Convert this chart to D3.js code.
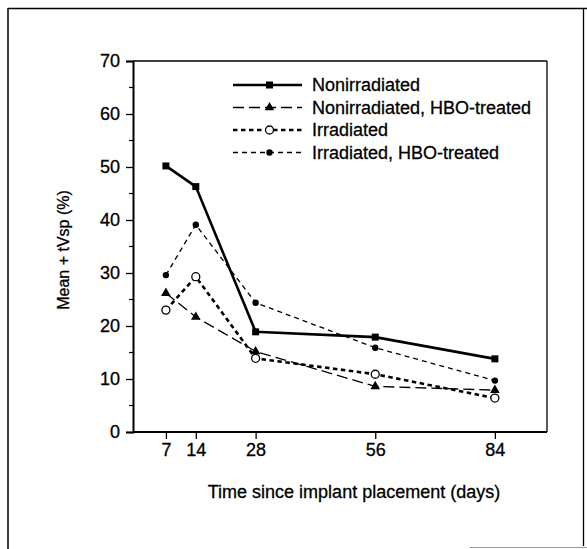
<!DOCTYPE html>
<html>
<head>
<meta charset="utf-8">
<script src="https://cdn.jsdelivr.net/npm/d3@7"></script>
<style>
  html, body { margin: 0; padding: 0; background: #fff; }
  svg { display: block; }
  text { font-family: "Liberation Sans", Arial, Helvetica, sans-serif; fill: #000; stroke: #000; stroke-width: 0.3px; }
</style>
</head>
<body>
<svg id="chart" width="587" height="549"></svg>
<script>
// ---- data ----
const days = [7, 14, 28, 56, 84];
const xTickLabels = ["7", "14", "28", "56", "84"];
const yTicks = [0, 10, 20, 30, 40, 50, 60, 70];
const seriesNames = [
  "Nonirradiated",
  "Nonirradiated, HBO-treated",
  "Irradiated",
  "Irradiated, HBO-treated"
];
const nonirradiated      = [50.2, 46.3, 18.9, 17.9, 13.8];
const nonirradiatedHBO   = [26.2, 21.7, 15.2, 8.6, 7.9];
const irradiated         = [23.0, 29.3, 13.9, 10.9, 6.4];
const irradiatedHBO      = [29.6, 39.1, 24.4, 15.9, 9.7];
const xLabel = "Time since implant placement (days)";
const yLabel = "Mean + tVsp (%)";

(function () {
// ---- styles ----
const styles = [
  { width: 2.6, dash: null,  marker: "square" },
  { width: 1.3, dash: "11,5", marker: "triangle" },
  { width: 2.6, dash: "4.5,3.5", marker: "open" },
  { width: 1.3, dash: "5,4", marker: "dot" }
];
const seriesValues = [nonirradiated, nonirradiatedHBO, irradiated, irradiatedHBO];

const svg = d3.select("#chart");

// outer frame
svg.append("line").attr("x1", 8).attr("x2", 8).attr("y1", 8).attr("y2", 549)
  .attr("stroke", "#000").attr("stroke-width", 1.5);
svg.append("line").attr("x1", 8).attr("x2", 587).attr("y1", 8.5).attr("y2", 8.5)
  .attr("stroke", "#000").attr("stroke-width", 1.5);
svg.append("line").attr("x1", 583.5).attr("x2", 583.5).attr("y1", 8).attr("y2", 546)
  .attr("stroke", "#000").attr("stroke-width", 1.3);
svg.append("line").attr("x1", 470).attr("x2", 587).attr("y1", 547.5).attr("y2", 547.5)
  .attr("stroke", "#999").attr("stroke-width", 1);

const pL = 133, pR = 547, pT = 61, pB = 432;
const x = d3.scaleLinear().domain([-0.7, 96.2]).range([pL, pR]);
const y = d3.scaleLinear().domain([0, 70]).range([pB, pT]);

// plot box top & right
svg.append("line").attr("x1", pL).attr("x2", pR).attr("y1", pT).attr("y2", pT)
  .attr("stroke", "#000").attr("stroke-width", 1.3);
svg.append("line").attr("x1", pR).attr("x2", pR).attr("y1", pT).attr("y2", pB)
  .attr("stroke", "#000").attr("stroke-width", 1.3);

// y axis
const yAxis = d3.axisLeft(y).tickValues(yTicks).tickSize(7).tickPadding(6).tickFormat(d3.format("d"));
const gy = svg.append("g").attr("transform", `translate(${pL},0)`).call(yAxis);
gy.select(".domain").attr("stroke-width", 2);
gy.selectAll(".tick line").attr("stroke-width", 1.3);
gy.selectAll(".tick text").style("font-size", "18px").style("font-family", "'Liberation Sans', Arial, sans-serif");
// minor ticks
const minor = d3.range(5, 70, 10);
svg.append("g").selectAll("line").data(minor).join("line")
  .attr("x1", pL - 4).attr("x2", pL).attr("y1", d => y(d)).attr("y2", d => y(d))
  .attr("stroke", "#000").attr("stroke-width", 1.2);

// x axis
const xAxis = d3.axisBottom(x).tickValues(days).tickSize(7).tickPadding(4)
  .tickFormat((d, i) => xTickLabels[i]);
const gx = svg.append("g").attr("transform", `translate(0,${pB})`).call(xAxis);
gx.select(".domain").attr("stroke-width", 2).attr("d", `M${pL},0H${pR}`);
gx.selectAll(".tick line").attr("stroke-width", 1.3);
gx.selectAll(".tick text").style("font-size", "18px").style("font-family", "'Liberation Sans', Arial, sans-serif");

// axis titles
svg.append("text").attr("x", 354).attr("y", 498).attr("text-anchor", "middle")
  .style("font-size", "18px").text(xLabel);
svg.append("text").attr("transform", "translate(69,250) rotate(-90)")
  .attr("text-anchor", "middle").style("font-size", "16px").text(yLabel);

// markers
function drawMarker(g, type, cx, cy) {
  if (type === "square") {
    g.append("rect").attr("x", cx - 3.5).attr("y", cy - 3.5).attr("width", 7).attr("height", 7).attr("fill", "#000");
  } else if (type === "triangle") {
    g.append("path").attr("d", d3.symbol(d3.symbolTriangle, 40)()).attr("transform", `translate(${cx},${cy})`).attr("fill", "#000");
  } else if (type === "open") {
    g.append("circle").attr("cx", cx).attr("cy", cy).attr("r", 4).attr("fill", "#fff").attr("stroke", "#000").attr("stroke-width", 1.3);
  } else {
    g.append("circle").attr("cx", cx).attr("cy", cy).attr("r", 3.2).attr("fill", "#000");
  }
}

const line = d3.line().x((d, i) => x(days[i])).y(d => y(d));
const order = [3, 1, 2, 0];
order.forEach(si => {
  const st = styles[si];
  const g = svg.append("g");
  g.append("path").datum(seriesValues[si]).attr("d", line)
    .attr("fill", "none").attr("stroke", "#000").attr("stroke-width", st.width)
    .attr("stroke-dasharray", st.dash);
  seriesValues[si].forEach((v, i) => drawMarker(g, st.marker, x(days[i]), y(v)));
});

// legend
const legX1 = 233, legX2 = 302, legText = 312;
const legY = [85, 107.5, 130, 152.5];
seriesNames.forEach((name, si) => {
  const st = styles[si];
  const g = svg.append("g");
  g.append("line").attr("x1", legX1).attr("x2", legX2).attr("y1", legY[si]).attr("y2", legY[si])
    .attr("stroke", "#000").attr("stroke-width", st.width).attr("stroke-dasharray", st.dash);
  drawMarker(g, st.marker, (legX1 + legX2) / 2 + 2, legY[si]);
  g.append("text").attr("x", legText).attr("y", legY[si]).attr("dy", "0.35em")
    .style("font-size", "18px").text(name);
});
})();
</script>
</body>
</html>
